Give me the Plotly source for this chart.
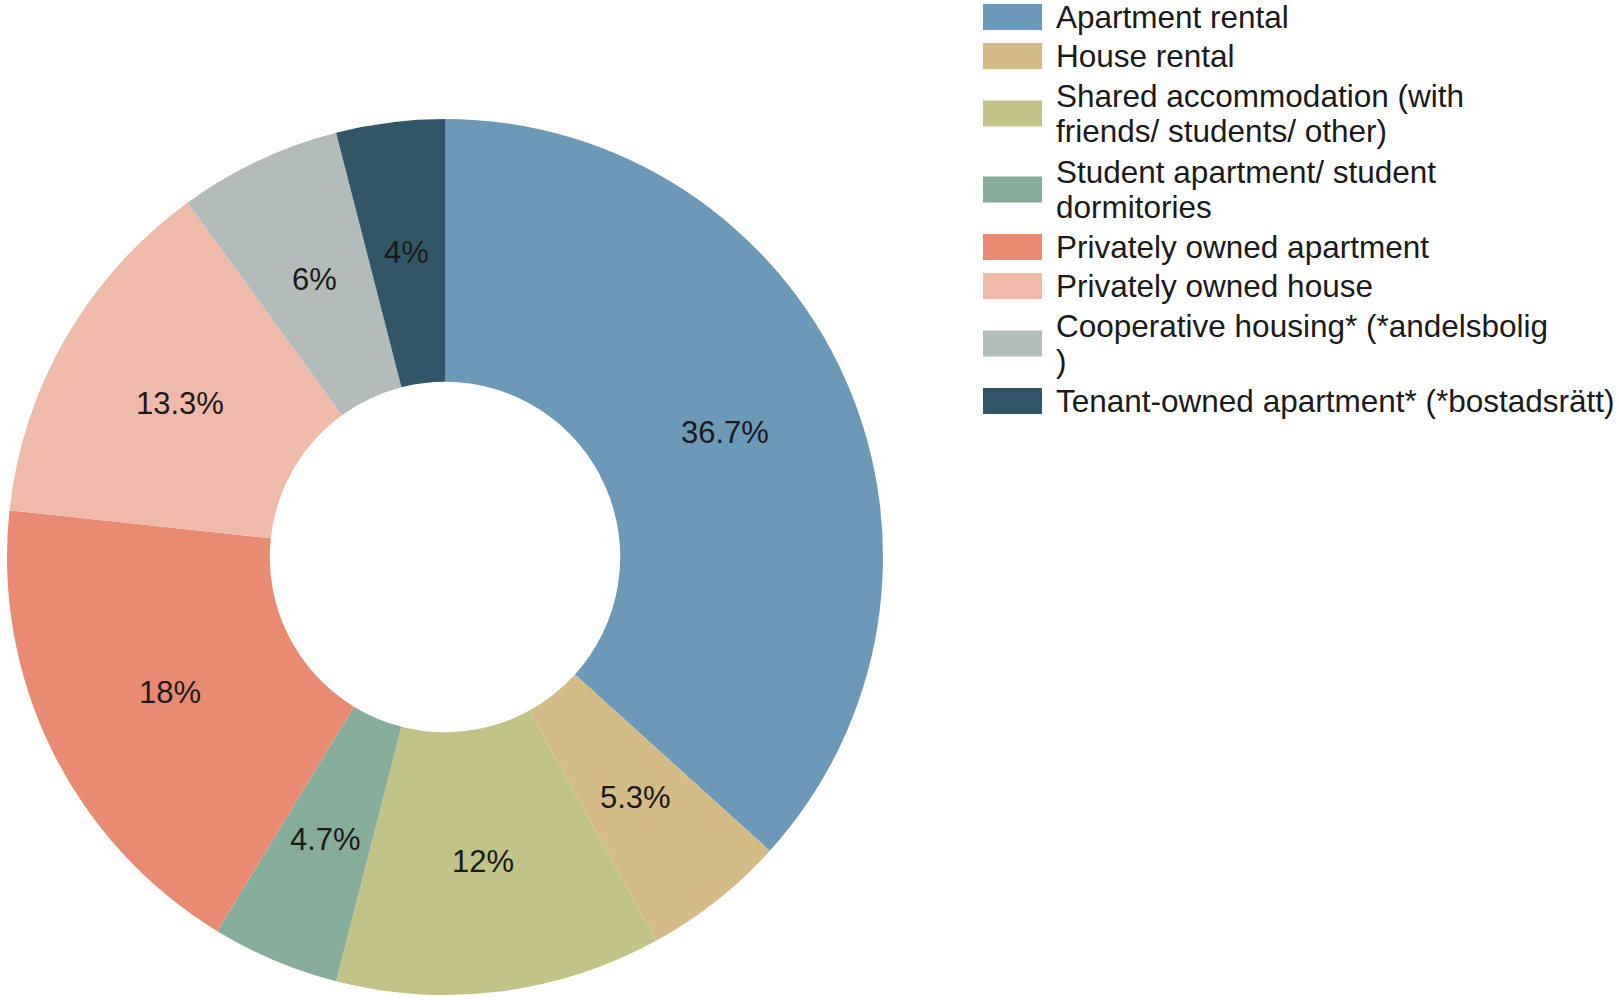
import math
import plotly.graph_objects as go

labels = [
    "Apartment rental",
    "House rental",
    "Shared accommodation (with<br>friends/ students/ other)",
    "Student apartment/ student<br>dormitories",
    "Privately owned apartment",
    "Privately owned house",
    "Cooperative housing* (*andelsbolig<br>)",
    "Tenant-owned apartment* (*bostadsrätt)",
]
values = [36.7, 5.3, 12, 4.7, 18, 13.3, 6, 4]
value_text = ["36.7%", "5.3%", "12%", "4.7%", "18%", "13.3%", "6%", "4%"]
colors = ["#6C99B8", "#D5BC86", "#C2C386", "#86AD9A", "#E98B73", "#F0BAAA", "#B3BCBB", "#315668"]

W, H = 1619, 1000
FONT = "Liberation Sans, Arial, sans-serif"
TXT = "#1a1a1a"
FS = 31
FS_LEG = 31.5

# pie geometry in page pixels
cx, cy, R = 445, 557, 438
HOLE = 0.40


def px(x):
    return x / W


def py(y):
    return 1 - y / H


fig = go.Figure(go.Pie(
    labels=[l.replace("<br>", " ") for l in labels],
    values=values,
    textinfo="none",
    marker=dict(colors=colors, line=dict(width=0)),
    hole=HOLE,
    sort=False,
    direction="clockwise",
    rotation=0,
    showlegend=False,
    domain=dict(x=[px(cx - R), px(cx + R)], y=[py(cy + R), py(cy - R)]),
))

annotations = []
shapes = []

# slice labels at mid-radius along each slice's bisector
total = sum(values)
cum = 0.0
rmid = R * (1 + HOLE) / 2
for v, t in zip(values, value_text):
    th = 2 * math.pi * (cum + v / 2) / total
    cum += v
    annotations.append(dict(xref="paper", yref="paper",
                            x=px(cx + rmid * math.sin(th)), y=py(cy - rmid * math.cos(th)),
                            xanchor="center", yanchor="middle", text=t, showarrow=False,
                            font=dict(family=FONT, size=FS, color=TXT)))

# custom legend
y = -2.5
sw_x0, sw_x1, sw_h = 983, 1042, 26
txt_x = 1054
line_gap = 35
for lab, col in zip(labels, colors):
    lines = lab.split("<br>")
    h = 39 if len(lines) == 1 else 76
    yc = y + h / 2
    y += h
    shapes.append(dict(type="rect", xref="paper", yref="paper",
                       x0=px(sw_x0), x1=px(sw_x1),
                       y0=py(yc + sw_h / 2), y1=py(yc - sw_h / 2),
                       fillcolor=col, line=dict(width=0)))
    for i, ln in enumerate(lines):
        ly = yc + (i - (len(lines) - 1) / 2) * line_gap
        annotations.append(dict(xref="paper", yref="paper", x=px(txt_x), y=py(ly),
                                xanchor="left", yanchor="middle", align="left",
                                text=ln, showarrow=False,
                                font=dict(family=FONT, size=FS_LEG, color=TXT)))

fig.update_layout(
    width=W, height=H,
    margin=dict(l=0, r=0, t=0, b=0),
    paper_bgcolor="white", plot_bgcolor="white",
    shapes=shapes, annotations=annotations,
)

# remove the default 8px page margin so the figure fills the window exactly
fig.write_html("out.html", config={"displayModeBar": False},
               post_script="document.body.style.margin='0';")
